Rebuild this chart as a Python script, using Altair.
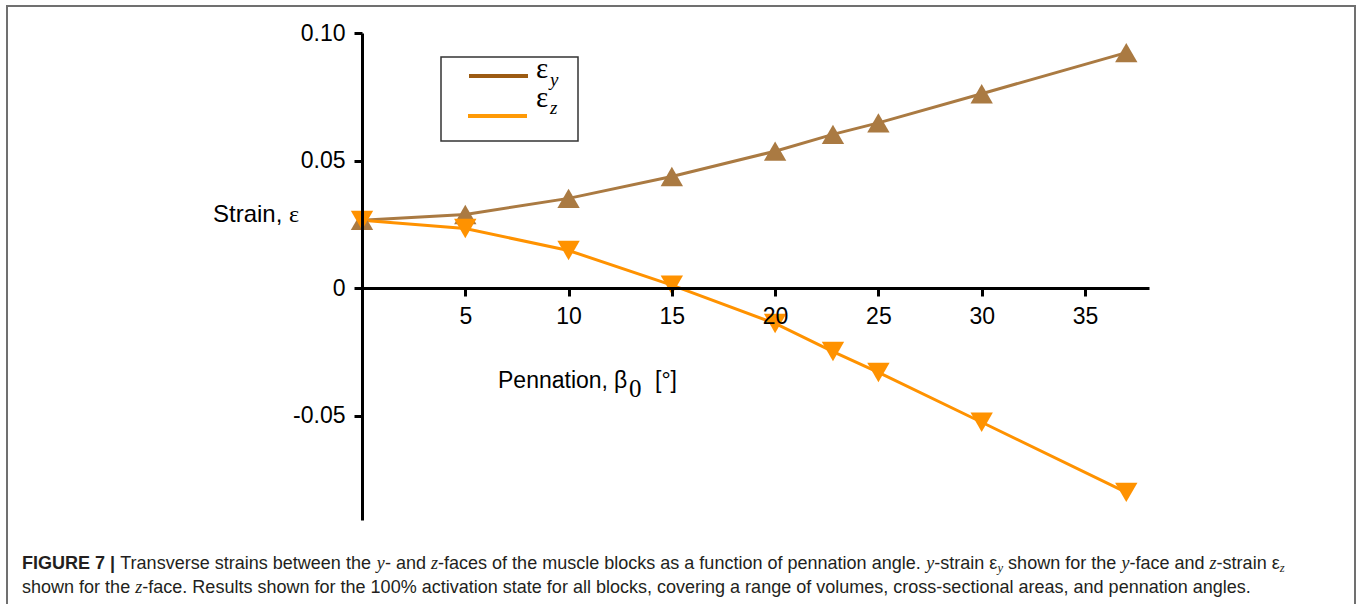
import altair as alt
import pandas as pd

# ---------------- data ----------------
pennation = [0, 5, 10, 15, 20, 22.8, 25, 30, 37]
strain_y = [0.0266, 0.0289, 0.0352, 0.0438, 0.0537, 0.0603, 0.0648, 0.0762, 0.0923]
strain_z = [0.0266, 0.0234, 0.0148, 0.0012, -0.0138, -0.0248, -0.0330, -0.0525, -0.0800]
series_names = ["εy", "εz"]
x_ticks = [5, 10, 15, 20, 25, 30, 35]
y_ticks = [0.10, 0.05, 0, -0.05]

BROWN = "#AA7A42"
ORANGE = "#FF9200"
W, H = 1357, 604

rows = []
for name, vals in zip(series_names, [strain_y, strain_z]):
    for p, v in zip(pennation, vals):
        rows.append({"series": name, "pennation": p, "strain": v})
df = pd.DataFrame(rows)

xscale = alt.Scale(domain=[0, 38.1], range=[362, 1149], nice=False, zero=False)
yscale = alt.Scale(domain=[-0.0908, 0.10], range=[520, 33], nice=False, zero=False)
color = alt.Color("series:N", scale=alt.Scale(domain=series_names, range=[BROWN, ORANGE]), legend=None)
shape = alt.Shape("series:N", scale=alt.Scale(domain=series_names, range=["triangle-up", "triangle-down"]), legend=None)

axis_common = dict(title=None, grid=False, domainColor="black", domainWidth=3, tickColor="black",
                   tickWidth=3, tickSize=8, labelFont="Liberation Sans", labelFontSize=23,
                   labelColor="black", labelPadding=9, labelFlush=False, labelOverlap=False, zindex=1)

xenc = alt.X("pennation:Q", scale=xscale,
             axis=alt.Axis(values=x_ticks, format="d", orient="bottom", offset=288 - H, **axis_common))
yenc = alt.Y("strain:Q", scale=yscale,
             axis=alt.Axis(values=y_ticks, orient="left", offset=-362,
                           labelExpr="datum.value == 0 ? '0' : (datum.value < 0 ? '-' + format(-datum.value, '.2f') : format(datum.value, '.2f'))",
                           **axis_common))

lines = alt.Chart(df).mark_line(strokeWidth=3).encode(x=xenc, y=yenc, color=color, detail="series:N")
points = alt.Chart(df).mark_point(filled=True, size=500, opacity=1).encode(
    x=alt.X("pennation:Q", scale=xscale), y=alt.Y("strain:Q", scale=yscale), color=color, shape=shape)

one = pd.DataFrame({"k": [0]})


def label(txt, x, y, size, font="Liberation Sans", style="normal", weight="normal",
          align="left", baseline="alphabetic", color="black"):
    return alt.Chart(one).mark_text(text=txt, font=font, fontSize=size, fontStyle=style,
                                    fontWeight=weight, align=align, baseline=baseline,
                                    color=color).encode(x=alt.value(x), y=alt.value(y))


def seg_rule(x1, x2, y1, y2, col, w):
    return alt.Chart(one).mark_rule(color=col, strokeWidth=w).encode(
        x=alt.value(x1), x2=alt.value(x2), y=alt.value(y1), y2=alt.value(y2))


layers = []
# outer frame
layers.append(alt.Chart(one).mark_rect(filled=False, stroke="#707070", strokeWidth=2).encode(
    x=alt.value(7), x2=alt.value(1355), y=alt.value(6), y2=alt.value(640)))
layers += [lines, points]

# legend
layers.append(alt.Chart(one).mark_rect(filled=False, stroke="#333333", strokeWidth=1.5).encode(
    x=alt.value(441), x2=alt.value(578), y=alt.value(57), y2=alt.value(141)))
layers.append(seg_rule(469, 528, 76, 76, "#9C5B12", 4))
layers.append(seg_rule(468, 527, 116, 116, "#FF9A06", 4))
layers.append(label("ε", 536, 78, 29, font="Liberation Serif"))
layers.append(label("y", 550, 86, 19, font="Liberation Serif", style="italic"))
layers.append(label("ε", 536, 107, 29, font="Liberation Serif"))
layers.append(label("z", 550, 114, 19, font="Liberation Serif", style="italic"))

# axis titles
layers.append(label("Strain,", 213, 222, 24))
layers.append(label("ε", 289, 222, 24, font="Liberation Serif"))
layers.append(label("Pennation,", 498, 388, 23))
layers.append(label("β", 614, 388, 23))
layers.append(label("0", 629, 397, 25, font="Liberation Serif"))
layers.append(label("[°]", 655, 388, 23))

# ---------------- caption ----------------
HW = {}
for ch, w in zip(" !\"#$%&'()*+,-./0123456789:;<=>?@[]|",
                 [278, 278, 355, 556, 556, 889, 667, 191, 333, 333, 389, 584, 278, 333, 278, 278]
                 + [556] * 10 + [278, 278, 584, 584, 584, 556, 1015, 278, 278, 260]):
    HW[ch] = w
for ch, w in zip("ABCDEFGHIJKLMNOPQRSTUVWXYZ",
                 [667, 667, 722, 722, 667, 611, 778, 722, 278, 500, 667, 556, 833, 722, 778, 667,
                  778, 722, 667, 611, 722, 667, 944, 667, 667, 611]):
    HW[ch] = w
for ch, w in zip("abcdefghijklmnopqrstuvwxyz",
                 [556, 556, 500, 556, 556, 278, 556, 556, 222, 222, 500, 222, 833, 556, 556, 556,
                  556, 333, 500, 278, 556, 500, 722, 500, 500, 500]):
    HW[ch] = w
HW["ε"] = 450
BW = {"F": 611, "I": 278, "G": 778, "U": 722, "R": 722, "E": 667, " ": 278, "7": 556, "|": 280}
IW = {"y": 444, "z": 389}


def units(kind, txt):
    if kind == "b":
        return sum(BW.get(c, 600) for c in txt)
    if kind == "i":
        return sum(IW.get(c, 450) for c in txt)
    if kind == "s":
        return 0.7 * sum(IW.get(c, 450) for c in txt)
    return sum(HW.get(c, 556) for c in txt)


line1 = [("b", "FIGURE 7 |"), ("r", " Transverse strains between the "), ("i", "y"), ("r", "- and "),
         ("i", "z"), ("r", "-faces of the muscle blocks as a function of pennation angle. "), ("i", "y"),
         ("r", "-strain ε"), ("s", "y"), ("r", " shown for the "), ("i", "y"), ("r", "-face and "),
         ("i", "z"), ("r", "-strain ε"), ("s", "z")]
line2 = [("r", "shown for the "), ("i", "z"),
         ("r", "-face. Results shown for the 100% activation state for all blocks, covering a range "
               "of volumes, cross-sectional areas, and pennation angles.")]

CAP_X = 22
fs = 1230 * 1000 / sum(units(k, t) for k, t in line2)
CAPCOL = "#231f20"


def caption_line(parts, base):
    out = []
    x = CAP_X
    for kind, txt in parts:
        t = txt.strip() if kind == "r" else txt
        lead = len(txt) - len(txt.lstrip()) if kind == "r" else 0
        xx = x + units("r", " " * lead) * fs / 1000
        if kind == "b":
            out.append(label(t, xx, base, fs, weight="bold", color=CAPCOL))
        elif kind == "i":
            out.append(label(t, xx, base, fs, font="Liberation Serif", style="italic", color=CAPCOL))
        elif kind == "s":
            out.append(label(t, xx, base + 3, fs * 0.7, font="Liberation Serif", style="italic", color=CAPCOL))
        else:
            out.append(label(t, xx, base, fs, color=CAPCOL))
        x += units(kind, txt) * fs / 1000
    return out


layers += caption_line(line1, 569)
layers += caption_line(line2, 593)

chart = alt.layer(*layers).properties(
    width=W, height=H, autosize=alt.AutoSizeParams(type="none"), padding=0, background="white"
).configure_view(stroke=None)

chart.save("out.html", embed_options={"renderer": "svg", "actions": False})
